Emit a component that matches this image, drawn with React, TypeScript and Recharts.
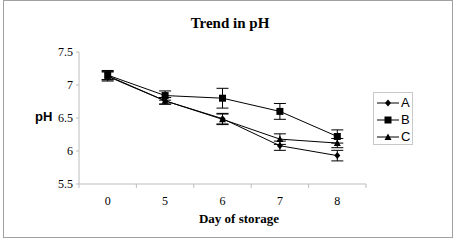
import React from 'react';
import { LineChart, Line, XAxis, YAxis, ErrorBar } from 'recharts';

const days = ['0', '5', '6', '7', '8'];
const seriesA = [7.13, 6.76, 6.49, 6.08, 5.93];
const seriesB = [7.15, 6.84, 6.8, 6.6, 6.22];
const seriesC = [7.14, 6.76, 6.48, 6.18, 6.12];
const errA = [0.07, 0.05, 0.08, 0.07, 0.08];
const errB = [0.07, 0.07, 0.15, 0.12, 0.1];
const errC = [0.06, 0.05, 0.08, 0.08, 0.07];
const yTicks = [5.5, 6, 6.5, 7, 7.5];

const data = days.map((d, i) => ({
  day: d,
  A: seriesA[i],
  B: seriesB[i],
  C: seriesC[i],
  aErr: errA[i],
  bErr: errB[i],
  cErr: errC[i]
}));

const serif = '"Liberation Serif", "Times New Roman", serif';
const sans = '"Liberation Sans", Arial, sans-serif';
const axisColor = '#bdbdbd';
const halfBand = 28.7;

const Diamond = ({ cx, cy }: any) => (
  <path d={`M${cx},${cy - 3.5}L${cx + 3},${cy}L${cx},${cy + 3.5}L${cx - 3},${cy}Z`} fill="#000" />
);
const Square = ({ cx, cy }: any) => (
  <rect x={cx - 3.5} y={cy - 3.5} width={7} height={7} fill="#000" />
);
const Triangle = ({ cx, cy }: any) => (
  <path d={`M${cx},${cy - 3.5}L${cx + 3.5},${cy + 3}L${cx - 3.5},${cy + 3}Z`} fill="#000" />
);

const XTick = ({ x, y, payload, index }: any) => (
  <g>
    <line x1={x + halfBand} y1={y - 8} x2={x + halfBand} y2={y - 4} stroke={axisColor} />
    {index === 0 && (
      <line x1={x - halfBand} y1={y - 8} x2={x - halfBand} y2={y - 4} stroke={axisColor} />
    )}
    <text x={x} y={y + 13} textAnchor="middle" fontFamily={serif} fontSize={12} fill="#000">
      {payload.value}
    </text>
  </g>
);

const YTick = ({ x, y, payload }: any) => (
  <text x={x} y={y + 4} textAnchor="end" fontFamily={serif} fontSize={12} fill="#000">
    {payload.value}
  </text>
);

const legendItems = [
  { name: 'A', Shape: Diamond },
  { name: 'B', Shape: Square },
  { name: 'C', Shape: Triangle }
];

const LegendBox = () => (
  <div
    style={{
      position: 'absolute',
      left: 373,
      top: 92,
      border: '1px solid #c8c8c8',
      width: 40,
      height: 53,
      padding: '1px 0',
      boxSizing: 'border-box',
      background: '#fff'
    }}
  >
    {legendItems.map(({ name, Shape }) => (
      <div key={name} style={{ height: 17, display: 'flex', alignItems: 'center' }}>
        <svg width={27} height={17} style={{ display: 'block' }}>
          <line x1={3} y1={9} x2={25} y2={9} stroke="#000" />
          <Shape cx={14} cy={9} />
        </svg>
        <span style={{ fontFamily: sans, fontSize: 13, color: '#000', lineHeight: '17px' }}>{name}</span>
      </div>
    ))}
  </div>
);

export default function App() {
  return (
    <div style={{ position: 'absolute', left: 0, top: 0, width: 456, height: 241, background: '#fff' }}>
      <div
        style={{
          position: 'absolute',
          left: 3,
          top: 0,
          width: 450,
          height: 238,
          border: '1px solid #a0a0a0',
          boxSizing: 'border-box'
        }}
      />
      <LineChart
        width={456}
        height={241}
        data={data}
        margin={{ top: 52, right: 90, left: 39, bottom: 27 }}
        style={{ position: 'absolute', left: 0, top: 0 }}
      >
        <XAxis
          dataKey="day"
          height={30}
          stroke={axisColor}
          tickLine={false}
          padding={{ left: halfBand, right: halfBand }}
          tick={<XTick />}
          interval={0}
        />
        <YAxis
          width={40}
          domain={[5.5, 7.5]}
          ticks={yTicks}
          interval={0}
          stroke={axisColor}
          tickSize={3}
          tickMargin={3}
          tick={<YTick />}
        />
        <Line dataKey="A" stroke="#000" strokeWidth={1} dot={<Diamond />} isAnimationActive={false}>
          <ErrorBar dataKey="aErr" width={6} stroke="#000" strokeWidth={1} direction="y" />
        </Line>
        <Line dataKey="B" stroke="#000" strokeWidth={1} dot={<Square />} isAnimationActive={false}>
          <ErrorBar dataKey="bErr" width={6} stroke="#000" strokeWidth={1} direction="y" />
        </Line>
        <Line dataKey="C" stroke="#000" strokeWidth={1} dot={<Triangle />} isAnimationActive={false}>
          <ErrorBar dataKey="cErr" width={6} stroke="#000" strokeWidth={1} direction="y" />
        </Line>
        <text x={230} y={28} textAnchor="middle" fontFamily={serif} fontWeight="bold" fontSize={15} fill="#000">
          Trend in pH
        </text>
        <text x={35} y={121} fontFamily={sans} fontWeight="bold" fontSize={13} fill="#000">
          pH
        </text>
        <text x={239} y={223} textAnchor="middle" fontFamily={serif} fontWeight="bold" fontSize={13} fill="#000">
          Day of storage
        </text>
      </LineChart>
      <LegendBox />
    </div>
  );
}
